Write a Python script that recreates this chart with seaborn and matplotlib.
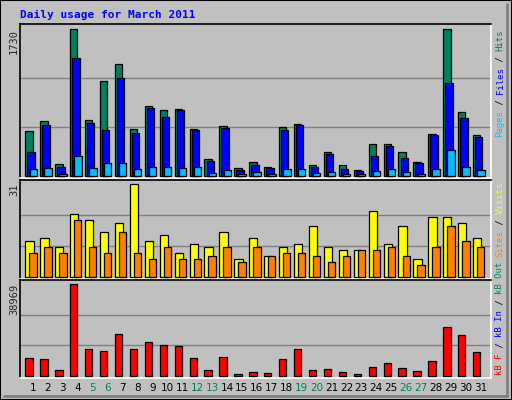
import numpy as np
import matplotlib
matplotlib.use("Agg")
import matplotlib.pyplot as plt
import seaborn as sns
from matplotlib.patches import Rectangle

days = list(range(1, 32))
hits = [530, 647, 141, 1730, 663, 1118, 1318, 553, 824, 777, 789, 553, 200, 588, 94, 165, 106, 577, 612, 129, 282, 129, 71, 377, 377, 282, 165, 494, 1730, 753, 483]
files = [282, 600, 106, 1389, 624, 541, 1153, 506, 800, 694, 777, 541, 177, 565, 71, 129, 94, 541, 600, 106, 259, 82, 59, 235, 353, 212, 153, 483, 1095, 683, 459]
pages = [82, 94, 24, 235, 94, 153, 153, 82, 106, 106, 94, 106, 35, 71, 24, 47, 24, 82, 82, 35, 47, 24, 24, 59, 82, 47, 24, 82, 306, 106, 71]
visits = [12, 13, 10, 21, 19, 15, 18, 31, 12, 14, 8, 11, 10, 15, 6, 13, 7, 10, 11, 17, 10, 9, 9, 22, 11, 17, 6, 20, 20, 18, 13]
sites = [8, 10, 8, 19, 10, 8, 15, 8, 6, 10, 6, 6, 7, 10, 5, 10, 7, 8, 8, 7, 5, 7, 9, 9, 10, 7, 4, 10, 17, 12, 10]
kbytes = [7822, 7396, 2702, 38969, 11235, 10382, 17636, 11235, 14222, 12942, 12516, 7822, 2702, 8249, 996, 1849, 1422, 7396, 11235, 2702, 3129, 1849, 996, 3982, 5689, 3556, 2276, 6542, 20623, 17210, 9956]
weekend = [5, 6, 12, 13, 19, 20, 26, 27]
max_hits, max_visits, max_kb = 1730, 31, 38969

sns.set_style("white")
plt.rcParams['font.family'] = ['DejaVu Sans Mono']
GREY = "#C0C0C0"
fig = plt.figure(figsize=(5.12, 4.0), dpi=100, facecolor=GREY)

def mkax(top, bot):
    ax = fig.add_axes([20/512, 1-bot/400, 471/512, (bot-top)/400])
    ax.set_facecolor(GREY)
    for s in ["top", "left"]:
        ax.spines[s].set_color("black")
    for s in ["bottom", "right"]:
        ax.spines[s].set_color("white")
    for s in ax.spines.values():
        s.set_linewidth(1.2)
    ax.set_xlim(0.13, 31.69)
    ax.set_xticks([]); ax.set_yticks([])
    return ax

x = np.array(days)
kw = dict(align="edge", edgecolor="black", linewidth=0.9, zorder=3)

ax1 = mkax(24, 178)
ax1.set_ylim(-24, 1792)
for g in (max_hits/3, 2*max_hits/3):
    ax1.axhline(g, color="#808080", lw=1, zorder=1)
ax1.bar(x-0.51, hits, width=0.49, color="#00805C", **kw)
ax1.bar(x-0.37, files, width=0.49, color="#0000FF", **kw)
ax1.bar(x-0.23, pages, width=0.49, color="#00C0FF", **kw)

ax2 = mkax(180, 279)
ax2.set_ylim(-0.67, 32.35)
for g in (max_visits/3, 2*max_visits/3):
    ax2.axhline(g, color="#808080", lw=1, zorder=1)
ax2.bar(x-0.51, visits, width=0.55, color="#FFFF00", **kw)
ax2.bar(x-0.24, sites, width=0.49, color="#FF8000", **kw)

ax3 = mkax(280, 378)
ax3.set_ylim(-850, 40675)
for g in (max_kb/3, 2*max_kb/3):
    ax3.axhline(g, color="#808080", lw=1, zorder=1)
ax3.bar(x-0.51, kbytes, width=0.49, color="#FF0000", **kw)

# day labels
for d in days:
    xf = (20 + (d - 0.13) / (31.69 - 0.13) * 471) / 512
    fig.text(xf, 1-388/400, str(d), ha="center", va="center", fontsize=7.5,
             color="#00805C" if d in weekend else "black", family="DejaVu Sans")

# left max labels
fs = 7.5
fig.text(14/512, 1-29/400, str(max_hits), rotation=90, ha="center", va="top", fontsize=fs)
fig.text(14/512, 1-184/400, str(max_visits), rotation=90, ha="center", va="top", fontsize=fs)
fig.text(14/512, 1-284/400, str(max_kb), rotation=90, ha="center", va="top", fontsize=fs)

# title
fig.text(20/512, 1-15/400, "Daily usage for March 2011", ha="left", va="center",
         fontsize=8, color="#0000FF", weight="bold")

cw = 5.4
vfs = 6.5
def vlabel(ybottom, parts):
    y = ybottom
    for txt, col in parts:
        fig.text(500/512, 1-y/400, txt, rotation=90, ha="center", va="bottom",
                 fontsize=vfs, color=col)
        y -= len(txt) * cw

vlabel(137, [("Pages", "#00C0FF"), (" / ", "black"), ("Files", "#0000FF"), (" / ", "black"), ("Hits", "#00805C")])
vlabel(257, [("Sites", "#FF8000"), (" / ", "black"), ("Visits", "#FFFF00")])
vlabel(375, [("kB F", "#FF0000"), (" / ", "black"), ("kB In", "#0000FF"), (" / ", "black"), ("kB Out", "#00805C")])

# outer frame
fig.patches.append(Rectangle((0, 0), 1, 1, transform=fig.transFigure, fill=False,
                             edgecolor="black", lw=1.5))
fig.lines.append(matplotlib.lines.Line2D([4/512, 507/512, 507/512], [1-396/400, 1-396/400, 1-4/400],
                                         transform=fig.transFigure, color="#808080", lw=2))
fig.savefig("out.png", dpi=100, facecolor=GREY)
